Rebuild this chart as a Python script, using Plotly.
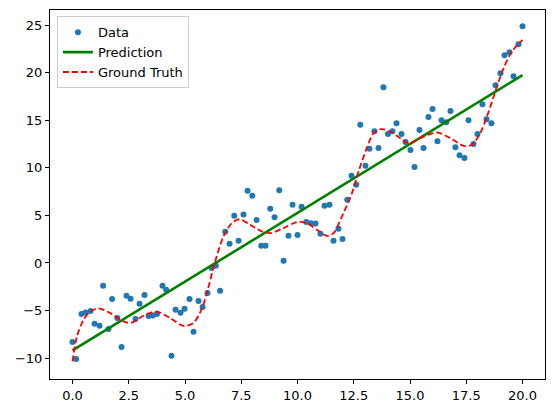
import plotly.graph_objects as go

data_x = [0.00, 0.16, 0.40, 0.58, 0.80, 0.98, 1.20, 1.36, 1.60, 1.76,
          1.99, 2.18, 2.40, 2.58, 2.80, 2.98, 3.20, 3.38, 3.57, 3.75,
          4.00, 4.16, 4.40, 4.58, 4.80, 4.98, 5.20, 5.38, 5.60, 5.78,
          6.00, 6.18, 6.37, 6.56, 6.79, 6.98, 7.19, 7.38, 7.60, 7.78,
          7.99, 8.18, 8.39, 8.58, 8.79, 8.98, 9.19, 9.38, 9.60, 9.78,
          10.00, 10.18, 10.39, 10.60, 10.80, 11.02, 11.20, 11.42, 11.60, 11.82,
          12.00, 12.21, 12.40, 12.61, 12.79, 13.02, 13.20, 13.42, 13.60, 13.82,
          14.02, 14.22, 14.40, 14.62, 14.80, 15.02, 15.20, 15.42, 15.60, 15.82,
          16.00, 16.22, 16.40, 16.61, 16.80, 17.02, 17.20, 17.42, 17.60, 17.82,
          18.00, 18.22, 18.40, 18.62, 18.80, 19.02, 19.20, 19.42, 19.60, 19.82,
          20.00]
data_y = [-8.31, -10.10, -5.37, -5.20, -5.06, -6.39, -6.60, -2.40, -6.95, -3.79,
          -5.79, -8.84, -3.45, -3.76, -5.90, -4.29, -3.37, -5.58, -5.52, -5.37,
          -2.40, -2.82, -9.75, -4.92, -5.23, -4.81, -3.79, -7.23, -4.00, -4.64,
          -3.16, -0.54, -0.29, -2.92, 3.28, 2.02, 4.96, 2.33, 5.10, 7.59,
          7.06, 4.51, 1.81, 1.81, 5.70, 4.82, 7.66, 0.23, 2.86, 6.12,
          2.93, 5.91, 4.30, 4.19, 4.15, 3.07, 6.01, 6.12, 2.33, 3.59,
          2.51, 6.64, 9.17, 8.22, 14.53, 10.22, 12.00, 13.86, 12.08, 18.49,
          13.55, 13.86, 14.70, 13.55, 12.71, 11.87, 10.08, 13.97, 12.08, 15.34,
          16.18, 12.81, 15.02, 14.81, 15.97, 12.18, 11.34, 11.03, 15.02, 12.50,
          13.55, 16.70, 15.12, 14.70, 18.70, 19.96, 21.85, 22.17, 19.64, 23.01,
          24.90]

# Fitted line end points
pred_x = [0.0, 20.0]
pred_y = [-9.2, 19.75]

# Ground truth curve
truth_x = [0.0, 0.2, 0.49, 0.79, 1.15, 1.68, 2.27, 2.6, 3.16, 3.7,
           4.34, 4.93, 5.38, 5.75, 6.0, 6.34, 6.71, 7.08, 7.4, 7.9,
           8.42, 8.8, 9.38, 9.97, 10.42, 10.86, 11.31, 11.6, 12.04, 12.42,
           12.75, 13.08, 13.38, 13.7, 14.12, 14.56, 14.93, 15.45, 16.2, 16.79,
           17.38, 17.75, 18.12, 18.42, 18.79, 19.16, 19.53, 20.0]
truth_y = [-10.35, -7.7, -5.97, -5.1, -4.77, -5.27, -6.15, -6.3, -5.55, -5.1,
           -5.79, -6.62, -6.3, -4.8, -2.9, 0.16, 2.79, 4.19, 4.6, 4.02,
           3.31, 3.14, 3.67, 4.3, 4.19, 3.49, 2.86, 3.14, 5.24, 7.35,
           9.9, 12.08, 13.65, 14.07, 13.82, 13.13, 12.6, 13.13, 13.72, 13.13,
           12.32, 12.42, 13.65, 15.4, 18.02, 20.49, 22.23, 23.46]

x_ticks = [0, 2.5, 5, 7.5, 10, 12.5, 15, 17.5, 20]
x_labels = ["0.0", "2.5", "5.0", "7.5", "10.0", "12.5", "15.0", "17.5", "20.0"]
y_ticks = [-10, -5, 0, 5, 10, 15, 20, 25]
y_labels = ["\u221210", "\u22125", "0", "5", "10", "15", "20", "25"]

fig = go.Figure()
fig.add_trace(go.Scatter(x=data_x, y=data_y, mode="markers", name="Data",
                         marker=dict(color="#1f77b4", size=6, line=dict(width=0))))
fig.add_trace(go.Scatter(x=pred_x, y=pred_y, mode="lines", name="Prediction",
                         line=dict(color="green", width=2.6)))
fig.add_trace(go.Scatter(x=truth_x, y=truth_y, mode="lines", name="Ground Truth",
                         line=dict(color="red", width=1.8, dash="6px,3px", shape="spline", smoothing=0.8)))

axis_style = dict(showgrid=False, zeroline=False, showline=True, linecolor="black", linewidth=1,
                  mirror=True, ticks="outside", ticklen=4, tickcolor="black",
                  tickfont=dict(family="DejaVu Sans", size=13, color="black"))

fig.update_xaxes(range=[-1.0, 21.0], tickvals=x_ticks, ticktext=x_labels, **axis_style)
fig.update_yaxes(range=[-12.2, 26.6], tickvals=y_ticks, ticktext=y_labels, **axis_style)

# the page adds an 8px body margin, so the figure is a bit smaller than the window
fig.update_layout(
    width=546, height=405,
    margin=dict(l=42, r=9, t=2, b=34),
    plot_bgcolor="white", paper_bgcolor="white",
    font=dict(family="DejaVu Sans", size=13, color="black"),
    legend=dict(x=0.014, y=0.983, xanchor="left", yanchor="top", itemwidth=30,
                bgcolor="rgba(255,255,255,0.8)", bordercolor="#cccccc", borderwidth=1,
                font=dict(family="DejaVu Sans", size=13), tracegroupgap=0),
    showlegend=True,
)

fig.write_html("out.html")
